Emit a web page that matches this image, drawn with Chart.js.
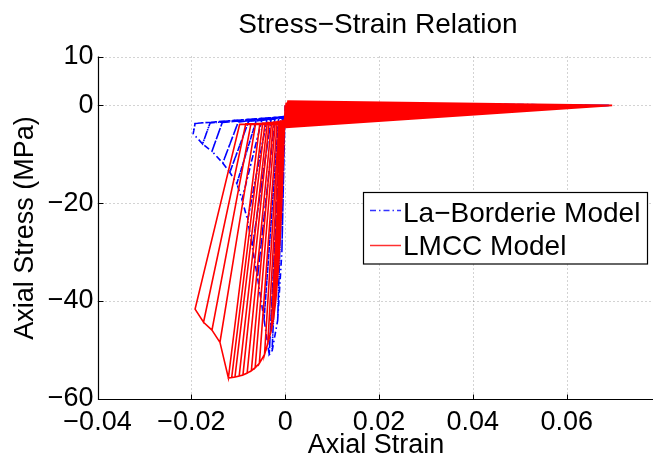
<!DOCTYPE html>
<html>
<head>
<meta charset="utf-8">
<script src="https://cdn.jsdelivr.net/npm/chart.js@4/dist/chart.umd.min.js"></script>
<style>
  html, body { margin: 0; padding: 0; background: #fff; overflow: hidden; }
  canvas { display: block; }
</style>
</head>
<body>
<canvas id="c" width="653" height="459"></canvas>
<script>
// ---------- data ----------
const titleText = "Stress\u2212Strain Relation";
const xTitle = "Axial Strain";
const yTitle = "Axial Stress (MPa)";
const seriesNames = ["La\u2212Borderie Model", "LMCC Model"];

const xTickValues = [-0.04, -0.02, 0, 0.02, 0.04, 0.06];
const xTickLabels = ["\u22120.04", "\u22120.02", "0", "0.02", "0.04", "0.06"];
const yTickValues = [10, 0, -20, -40, -60];
const yTickLabels = ["10", "0", "\u221220", "\u221240", "\u221260"];

// LMCC model (red): compression peaks of each cycle, residual points, tension excursions
const redPeakStrain = [-0.0008, -0.0014, -0.0020, -0.0025, -0.0030, -0.0037, -0.0044, -0.0055, -0.0064, -0.0072,
                       -0.0081, -0.0090, -0.0098, -0.0107, -0.0114, -0.0121, -0.0139, -0.0156, -0.0174, -0.0192];
const redPeakStress = [-22.0, -33.0, -40.0, -43.8, -46.2, -48.7, -51.0, -52.8, -53.7, -54.3,
                       -54.8, -55.2, -55.4, -55.6, -55.7, -55.8, -48.5, -46.0, -44.4, -41.7];
const redResidualStrain = [-0.0001, -0.0002, -0.0003, -0.0005, -0.0007, -0.0010, -0.0013, -0.0017, -0.0021, -0.0025,
                           -0.0029, -0.0034, -0.0038, -0.0043, -0.0048, -0.0054, -0.0063, -0.0073, -0.0084, -0.0097];
const redResidualStress = [-3.0, -3.0, -3.1, -3.1, -3.2, -3.2, -3.3, -3.3, -3.4, -3.4,
                           -3.5, -3.5, -3.5, -3.6, -3.6, -3.7, -3.7, -3.8, -3.8, -3.9];
const redTensionPeakStress = [0.9, 0.7, 0.6, 0.5, 0.5, 0.4, 0.4, 0.3, 0.3, 0.3,
                              0.2, 0.2, 0.2, 0.2, 0.1, 0.1, 0.1, 0.1, 0.0, 0.0];
const redReturnStress = [0.4, 0.1, -0.2, -0.4, -0.7, -0.9, -1.2, -1.4, -1.7, -1.9,
                         -2.2, -2.4, -2.7, -2.9, -3.2, -3.4, -3.7, -3.9, -4.2, -4.5];
const redTensionMaxStrain = 0.0697;

// La-Borderie model (blue)
const bluePeakStrain = [-0.0007, -0.0016, -0.0028, -0.0034, -0.0045, -0.0059, -0.0070, -0.0080, -0.0092, -0.0103,
                        -0.0118, -0.0133, -0.0156, -0.0176, -0.0196];
const bluePeakStress = [-30.0, -44.0, -50.4, -51.0, -43.8, -35.2, -29.0, -23.5, -19.3, -16.0,
                        -13.7, -11.8, -9.4, -7.9, -5.8];
const blueResidualStrain = [-0.0001, -0.0003, -0.0006, -0.0009, -0.0014, -0.0022, -0.0030, -0.0039, -0.0050, -0.0062,
                            -0.0078, -0.0100, -0.0134, -0.0160, -0.0192];
const blueResidualStress = [-2.4, -2.5, -2.6, -2.6, -2.7, -2.8, -2.9, -3.0, -3.1, -3.2,
                            -3.3, -3.4, -3.5, -3.6, -3.7];
const blueTensionPeakStress = [0.6, 0.5, 0.4, 0.4, 0.3, 0.3, 0.2, 0.2, 0.2, 0.1,
                               0.1, 0.1, 0.1, 0.0, 0.0];
const blueReturnStress = [-0.3, -0.6, -0.9, -1.2, -1.4, -1.7, -1.9, -2.1, -2.3, -2.5,
                          -2.7, -2.9, -3.1, -3.3, -3.5];
const blueOriginStress = -2.3;
const blueTensionMaxStrain = 0.0690;

const tensionPeakStrain = 0.0006;
const returnStrain = 0.0002;

// ---------- build the loading path from the arrays ----------
function cyclicPath(pk, pkS, res, resS, tPk, ret, tMax, originS) {
  const pts = [{ x: 0, y: 0 }];
  for (let i = 0; i < pk.length; i++) {
    const o = originS === null ? resS[i] : originS;
    pts.push({ x: pk[i], y: pkS[i] });          // load to new peak
    pts.push({ x: res[i], y: resS[i] });        // unload
    pts.push({ x: 0, y: o });                   // to origin
    pts.push({ x: tensionPeakStrain, y: tPk[i] });
    pts.push({ x: tMax, y: 0 });                // tension excursion
    pts.push({ x: returnStrain, y: ret[i] });   // unload from tension
    pts.push({ x: 0, y: o });
    pts.push({ x: res[i], y: resS[i] });        // back to residual
    pts.push({ x: pk[i], y: pkS[i] });          // reload to previous peak
  }
  return pts;
}

const redData = cyclicPath(redPeakStrain, redPeakStress, redResidualStrain, redResidualStress,
                           redTensionPeakStress, redReturnStress, redTensionMaxStrain, null);
const blueData = cyclicPath(bluePeakStrain, bluePeakStress, blueResidualStrain, blueResidualStress,
                            blueTensionPeakStress, blueReturnStress, blueTensionMaxStrain, blueOriginStress);

// ---------- chart ----------
const FONT = "'Liberation Sans', Arial, Helvetica, sans-serif";
Chart.defaults.font.family = FONT;
Chart.defaults.color = '#000';

const decor = {
  id: 'decor',
  beforeDatasetsDraw(chart) {
    const { ctx, chartArea: a, scales: { x, y } } = chart;
    ctx.save();
    ctx.strokeStyle = 'rgba(0,0,0,0.35)';
    ctx.lineWidth = 1;
    ctx.setLineDash([1, 3]);
    xTickValues.forEach(v => {
      const px = Math.round(x.getPixelForValue(v)) + 0.5;
      if (px <= a.left + 1) return;
      ctx.beginPath(); ctx.moveTo(px, a.top); ctx.lineTo(px, a.bottom); ctx.stroke();
    });
    yTickValues.forEach(v => {
      const py = Math.round(y.getPixelForValue(v)) + 0.5;
      if (py >= a.bottom - 1) return;
      ctx.beginPath(); ctx.moveTo(a.left, py); ctx.lineTo(a.right, py); ctx.stroke();
    });
    ctx.restore();
  },
  afterDatasetsDraw(chart) {
    const { ctx, chartArea: a, scales: { x, y } } = chart;
    ctx.save();
    // axes (box off)
    ctx.strokeStyle = '#000';
    ctx.lineWidth = 1.2;
    ctx.setLineDash([]);
    const L = Math.round(a.left) + 0.5, B = Math.round(a.bottom) + 0.5;
    ctx.beginPath();
    ctx.moveTo(L, a.top); ctx.lineTo(L, B); ctx.lineTo(a.right, B);
    ctx.stroke();
    // inward ticks
    ctx.lineWidth = 1;
    xTickValues.forEach(v => {
      const px = Math.round(x.getPixelForValue(v)) + 0.5;
      ctx.beginPath(); ctx.moveTo(px, B); ctx.lineTo(px, B - 5); ctx.stroke();
    });
    yTickValues.forEach(v => {
      const py = Math.round(y.getPixelForValue(v)) + 0.5;
      ctx.beginPath(); ctx.moveTo(L, py); ctx.lineTo(L + 5, py); ctx.stroke();
    });

    // title
    ctx.fillStyle = '#000';
    ctx.textAlign = 'center';
    ctx.textBaseline = 'alphabetic';
    ctx.font = '28px ' + FONT;
    ctx.fillText(titleText, 378, 33);
    // x title
    ctx.font = '27px ' + FONT;
    ctx.fillText(xTitle, 376, 453);
    // y title
    ctx.save();
    ctx.translate(33, 228);
    ctx.rotate(-Math.PI / 2);
    ctx.fillText(yTitle, 0, 0);
    ctx.restore();

    // legend
    const lx = 363.5, ly = 192.5, lw = 284, lh = 71.5;
    ctx.fillStyle = '#fff';
    ctx.fillRect(lx, ly, lw, lh);
    ctx.strokeStyle = '#000';
    ctx.lineWidth = 1.2;
    ctx.strokeRect(lx, ly, lw, lh);
    ctx.lineWidth = 1.5;
    ctx.strokeStyle = '#3333ff';
    ctx.setLineDash([6, 3, 1.5, 3]);
    ctx.beginPath(); ctx.moveTo(370, 210.5); ctx.lineTo(401, 210.5); ctx.stroke();
    ctx.setLineDash([]);
    ctx.strokeStyle = '#ff3030';
    ctx.beginPath(); ctx.moveTo(370, 245.5); ctx.lineTo(401, 245.5); ctx.stroke();
    ctx.fillStyle = '#000';
    ctx.textAlign = 'left';
    ctx.font = '28px ' + FONT;
    ctx.fillText(seriesNames[0], 403, 221.5);
    ctx.fillText(seriesNames[1], 403, 255);
    ctx.restore();
  }
};

new Chart(document.getElementById('c'), {
  type: 'scatter',
  data: {
    datasets: [
      {
        label: seriesNames[0],
        data: blueData,
        showLine: true,
        borderColor: '#0000ff',
        borderWidth: 1.6,
        borderDash: [6, 3, 1.5, 3],
        pointRadius: 0,
        pointHoverRadius: 0,
        tension: 0,
        fill: false,
        order: 2
      },
      {
        label: seriesNames[1],
        data: redData,
        showLine: true,
        borderColor: '#ff0000',
        borderWidth: 1.6,
        pointRadius: 0,
        pointHoverRadius: 0,
        tension: 0,
        fill: false,
        order: 1
      }
    ]
  },
  options: {
    responsive: false,
    devicePixelRatio: 1,
    animation: false,
    events: [],
    layout: { padding: { top: 56.5, right: 0, bottom: 0, left: 0 } },
    plugins: {
      legend: { display: false },
      title: { display: false },
      tooltip: { enabled: false }
    },
    scales: {
      x: {
        type: 'linear',
        min: -0.04,
        max: 0.0784,
        afterBuildTicks: s => { s.ticks = xTickValues.map(v => ({ value: v })); },
        afterFit: s => { s.height = 60.5; },
        grid: { display: false, drawTicks: false },
        border: { display: false },
        ticks: {
          autoSkip: false, maxRotation: 0, minRotation: 0, padding: 8,
          font: { size: 27 }, color: '#000',
          callback: (v, i) => xTickLabels[i]
        }
      },
      y: {
        type: 'linear',
        min: -60,
        max: 10,
        afterBuildTicks: s => { s.ticks = yTickValues.map(v => ({ value: v })); },
        afterFit: s => { s.width = 97.5; },
        grid: { display: false, drawTicks: false },
        border: { display: false },
        ticks: {
          autoSkip: false, padding: 4,
          font: { size: 27 }, color: '#000',
          callback: (v, i) => yTickLabels[i]
        }
      }
    }
  },
  plugins: [decor]
});
</script>
</body>
</html>
